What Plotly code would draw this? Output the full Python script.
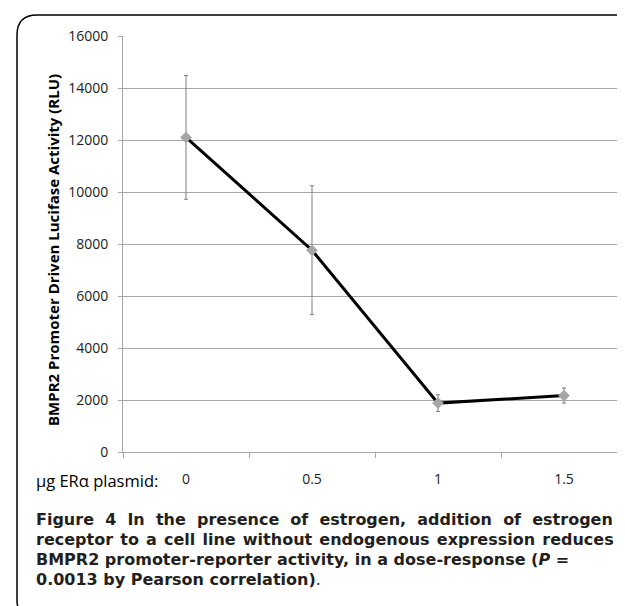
import plotly.graph_objects as go

# ---- data ----
doses = ["0", "0.5", "1", "1.5"]
rlu = [12100, 7760, 1880, 2170]
rlu_err = [2380, 2480, 320, 290]
y_ticks = [0, 2000, 4000, 6000, 8000, 10000, 12000, 14000, 16000]

NB = "\u00a0"
HS = "\u200a"
caption_lines = [
    "<b>" + (" " + NB).join("Figure 4 In the presence of estrogen, addition of estrogen".split(" ")) + "</b>",
    "<b>" + (" " + HS).join("receptor to a cell line without endogenous expression reduces".split(" ")) + "</b>",
    "<b>BMPR2 promoter-reporter activity, in a dose-response (<i>P</i> =</b>",
    "<b>0.0013 by Pearson correlation)</b>.",
]

W, H = 625, 606
L, R, T, B = 115, 6, 28, 162
PW, PH = W - L - R, H - T - B


def px(x):
    return (x - L) / PW


def py(y):
    return (H - B - y) / PH


fig = go.Figure()
fig.add_trace(go.Scatter(
    x=doses, y=rlu, mode="lines+markers",
    line=dict(color="black", width=3),
    marker=dict(symbol="diamond", size=9, color="#a6a6a6"),
    error_y=dict(type="data", array=rlu_err, color="#7f7f7f", thickness=1, width=2),
    showlegend=False,
))

font_ax = "Open Sans, Liberation Sans, sans-serif"
font_cap = "DejaVu Sans, sans-serif"
fig.update_layout(
    width=W, height=H,
    margin=dict(l=L, r=R, t=T, b=B),
    paper_bgcolor="white", plot_bgcolor="white",
    xaxis=dict(
        type="category", tickson="boundaries", ticks="outside", ticklen=5,
        tickcolor="#a6a6a6", showgrid=False, showline=True, linecolor="#a6a6a6",
        linewidth=1, tickfont=dict(family=font_ax, size=14, color="#222"),
        range=[-0.5, 3.5], zeroline=False, ticklabelstandoff=14,
    ),
    yaxis=dict(
        range=[0, 16000], tickvals=y_ticks, tickformat="d", ticks="outside", ticklen=4,
        tickcolor="#a6a6a6", showgrid=True, gridcolor="#a6a6a6", gridwidth=1,
        showline=True, linecolor="#a6a6a6", zeroline=False, ticklabelstandoff=7,
        tickfont=dict(family=font_ax, size=14, color="#222"),
    ),
)

annotations = [
    dict(text="<b>BMPR2 Promoter Driven Lucifase Activity (RLU)</b>", textangle=-90,
         x=px(45), y=py(242), xref="paper", yref="paper", showarrow=False,
         xanchor="center", yanchor="middle",
         font=dict(family=font_ax, size=15, color="black")),
    dict(text="µg ERα plasmid:", x=px(26), y=py(472), xref="paper", yref="paper",
         showarrow=False, xanchor="left", yanchor="middle",
         font=dict(family=font_ax, size=16.5, color="black")),
]
cap_y = [511, 531, 551, 571]
for line, yy in zip(caption_lines, cap_y):
    annotations.append(dict(
        text=line, x=px(26), y=py(yy), xref="paper", yref="paper", showarrow=False,
        xanchor="left", yanchor="middle",
        font=dict(family=font_cap, size=16, color="#231f20")))
fig.update_layout(annotations=annotations)

# rounded frame (open on the right, as in the cropped original)
r1, r2 = 20, 12
xl, yt, yb, xr = 9, 7, 605, 660
path = (f"M {px(xr)},{py(yt)} L {px(xl + r1)},{py(yt)} "
        f"Q {px(xl)},{py(yt)} {px(xl)},{py(yt + r1)} "
        f"L {px(xl)},{py(yb - r2)} Q {px(xl)},{py(yb)} {px(xl + r2)},{py(yb)} "
        f"L {px(xr)},{py(yb)}")
fig.add_shape(type="path", path=path, xref="paper", yref="paper",
              line=dict(color="black", width=1.5), layer="above")

fig.write_html("out.html")
